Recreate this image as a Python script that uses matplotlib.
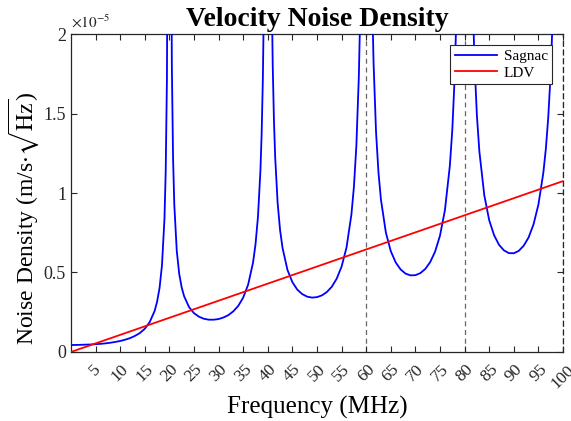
import matplotlib
matplotlib.use("Agg")
import matplotlib.pyplot as plt
from matplotlib.ticker import FuncFormatter

plt.rcParams["font.family"] = ["Liberation Serif", "DejaVu Serif"]
plt.rcParams["mathtext.fontset"] = "stix"

# values (noise density in units of 1e-5 m/s/sqrt(Hz))
sagnac_freq = [
    0, 1, 2, 3, 4, 5, 6, 7, 8, 9, 10, 11, 12, 13, 14, 15, 16, 17, 17.5, 18,
    18.5, 19, 19.25, 19.5, 19.75,
    20.25, 20.5, 20.75, 21, 21.5, 22, 22.5, 23, 24, 25, 26, 27, 28, 29, 30,
    31, 32, 33, 34, 35, 36, 37, 37.5, 38, 38.5, 38.75, 39, 39.25,
    40.75, 41, 41.25, 41.5, 42, 42.5, 43, 44, 45, 46, 47, 48, 49, 50,
    51, 52, 53, 54, 55, 56, 57, 57.5, 58, 58.5, 58.75,
    61.25, 61.5, 62, 62.5, 63, 64, 65, 66, 67, 68, 69, 70,
    71, 72, 73, 74, 75, 76, 77, 77.5, 78, 78.5,
    81.5, 82, 82.5, 83, 84, 85, 86, 87, 88, 89, 90,
    91, 92, 93, 94, 95, 96, 96.5, 97, 97.5, 98,
]
sagnac_val = [
    0.044, 0.044, 0.045, 0.046, 0.047, 0.049, 0.051, 0.054, 0.058, 0.063,
    0.069, 0.077, 0.087, 0.101, 0.119, 0.146, 0.188, 0.258, 0.316, 0.402,
    0.547, 0.838, 1.130, 1.715, 3.471,
    3.559, 1.803, 1.218, 0.926, 0.636, 0.491, 0.406, 0.350, 0.282, 0.244,
    0.222, 0.209, 0.203, 0.203, 0.207,
    0.217, 0.232, 0.256, 0.290, 0.342, 0.423, 0.562, 0.676, 0.849, 1.138,
    1.371, 1.720, 2.305,
    2.393, 1.808, 1.459, 1.227, 0.938, 0.766, 0.654, 0.516, 0.439, 0.392,
    0.364, 0.348, 0.342, 0.345,
    0.356, 0.377, 0.410, 0.461, 0.537, 0.657, 0.866, 1.037, 1.295, 1.729,
    2.078,
    2.166, 1.818, 1.384, 1.127, 0.958, 0.751, 0.634, 0.563, 0.519, 0.493,
    0.482, 0.483,
    0.496, 0.522, 0.565, 0.631, 0.732, 0.892, 1.171, 1.397, 1.742, 2.320,
    2.409, 1.831, 1.488, 1.262, 0.986, 0.829, 0.734, 0.674, 0.639, 0.622,
    0.621,
    0.636, 0.668, 0.720, 0.802, 0.927, 1.127, 1.274, 1.475, 1.758, 2.188,
]
ldv_freq = [0, 100]
ldv_val = [0.0, 1.075]
marker_freqs = [60, 80, 100]
xtick_vals = list(range(5, 101, 5))
ytick_vals = [0, 0.5, 1, 1.5, 2]

fig = plt.figure(figsize=(5.71, 4.21), dpi=100)
ax = fig.add_axes([0.1243, 0.164, 0.8617, 0.755])

for f in marker_freqs:
    ax.axvline(f, color="#666666", lw=0.9, ls=(0, (4, 3)), zorder=1)

ax.plot(sagnac_freq, sagnac_val, color="#0000ff", lw=1.3, label="Sagnac", zorder=3)
ax.plot(ldv_freq, ldv_val, color="#ff0000", lw=1.3, label="LDV", zorder=3)

ax.set_xlim(0, 100)
ax.set_ylim(0, 2)
ax.set_xticks(xtick_vals)
ax.set_yticks(ytick_vals)
ax.yaxis.set_major_formatter(FuncFormatter(lambda v, p: "%g" % v))
ax.tick_params(direction="in", top=True, right=True, length=4, width=0.8,
               colors="#262626", labelsize=13)
ax.tick_params(axis="x", pad=7, labelsize=12.5)
for lab in ax.get_xticklabels():
    lab.set_rotation(45)
    lab.set_ha("center")
for side in ["left", "bottom", "top", "right"]:
    ax.spines[side].set_color("#262626")
    ax.spines[side].set_linewidth(0.9)
ax.spines["right"].set_linestyle((0, (4, 3)))

ax.text(0.0, 1.01, r"$\times10^{-5}$", transform=ax.transAxes, fontsize=11,
        color="#262626", ha="left", va="bottom")

ax.set_title("Velocity Noise Density", fontsize=20, fontweight="bold", pad=6)
ax.set_xlabel("Frequency (MHz)", fontsize=18, labelpad=3)
ax.set_ylabel(r"Noise Density (m/s$\cdot\sqrt{\mathrm{Hz}}$)", fontsize=17)
ax.yaxis.set_label_coords(-0.06, 0.42)

leg = ax.legend(loc="upper right", fontsize=11, handlelength=2.8,
                fancybox=False, framealpha=1, edgecolor="#262626",
                borderpad=0.3, labelspacing=0.2, handletextpad=0.4,
                borderaxespad=0.7)
leg.get_frame().set_linewidth(0.8)

fig.savefig("out.png", dpi=100)
